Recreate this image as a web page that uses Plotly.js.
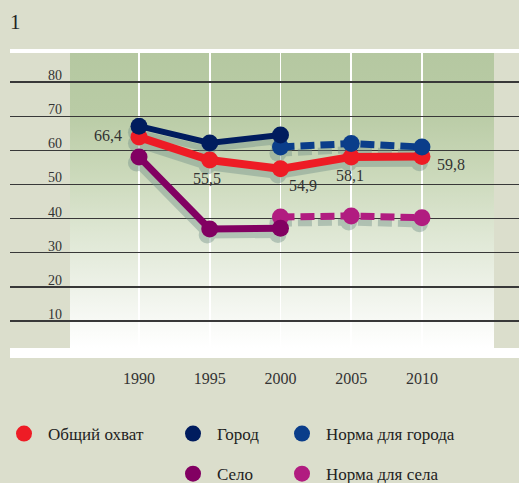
<!DOCTYPE html>
<html>
<head>
<meta charset="utf-8">
<script src="https://cdn.plot.ly/plotly-3.0.1.min.js"></script>
<style>
html,body{margin:0;padding:0;background:#dbdecc;}
#chart{width:519px;height:483px;}
</style>
</head>
<body>
<div id="chart"></div>
<script>
// ---- data ----
var years = [1990, 1995, 2000, 2005, 2010];
var yearsCity = [1990, 1995, 2000];
var yearsNorm = [2000, 2005, 2010];
var totalCoverage = [63.9, 57.2, 54.6, 58.1, 58.2];
var city = [67.1, 62.2, 64.5];
var village = [58.1, 37.0, 37.2];
var cityNorm = [61.0, 62.0, 61.0];
var villageNorm = [40.5, 40.8, 40.3];
var totalLabels = ['66,4', '55,5', '54,9', '58,1', '59,8'];
var yTicks = [10, 20, 30, 40, 50, 60, 70, 80];
var xTicks = [1990, 1995, 2000, 2005, 2010];
var names = ['Общий охват', 'Город', 'Норма для города', 'Село', 'Норма для села'];

// ---- styles ----
var C = {red:'#ee1c25', navy:'#001c5e', blue:'#0a3d8a', purple:'#820062', magenta:'#b11c80'};
var serif = 'Liberation Serif, Times New Roman, serif';
var labelOffsets = [[-15, 2, 'right'], [-3, -19, 'center'], [23, -17, 'center'], [-1, -19, 'center'], [29, -8, 'center']];

var xr = [1980.88, 2016.86];
var yr = [-0.8, 89.7];
var sdx = 0.18, sdy = 1.8;

// background canvas for plot area (decorative)
function makeBg() {
  var cv = document.createElement('canvas');
  cv.width = 509; cv.height = 309;
  var g = cv.getContext('2d');
  g.fillStyle = '#ffffff'; g.fillRect(0, 0, 509, 309);
  g.fillStyle = '#dbdecc';
  g.fillRect(0, 4, 60, 295);
  g.fillRect(484, 4, 25, 295);
  var gr = g.createLinearGradient(0, 4, 0, 299);
  gr.addColorStop(0, '#b5c8a1');
  gr.addColorStop(0.2, '#b9cba5');
  gr.addColorStop(0.4, '#cad8b9');
  gr.addColorStop(0.6, '#dde6d2');
  gr.addColorStop(0.8, '#eef2e9');
  gr.addColorStop(0.95, '#fbfcfa');
  gr.addColorStop(1, '#ffffff');
  g.fillStyle = gr;
  g.fillRect(60, 4, 424, 295);
  return cv.toDataURL('image/png');
}

function shadow(x, y, w, dash) {
  return {x:x, y:y, xaxis:'x2', yaxis:'y2', mode:'lines+markers', showlegend:false, hoverinfo:'skip',
    opacity:0.4, line:{color:'#6f8d86', width:w, dash:dash || 'solid'}, marker:{size:17, color:'#6f8d86'}};
}
function lineTr(x, y, col, w, dash) {
  return {x:x, y:y, xaxis:'x3', yaxis:'y3', mode:'lines', showlegend:false, hoverinfo:'skip',
    line:{color:col, width:w, dash:dash || 'solid'}};
}
function markTr(x, y, col, name, legend, rank) {
  return {x:x, y:y, xaxis:'x3', yaxis:'y3', mode:'markers', name:name, legend:legend, legendrank:rank,
    legendgroup:name, marker:{size:17, color:col}};
}

var dashPat = '14px,6px';
var traces = [
  shadow(years, totalCoverage, 8),
  shadow(yearsCity, city, 6),
  shadow(yearsCity, village, 7),
  shadow(yearsNorm, cityNorm, 7, dashPat),
  shadow(yearsNorm, villageNorm, 7, dashPat),
  lineTr(years, totalCoverage, C.red, 8),
  markTr(years, totalCoverage, C.red, names[0], 'legend', 1),
  lineTr(yearsNorm, villageNorm, C.magenta, 7, dashPat),
  markTr(yearsNorm, villageNorm, C.magenta, names[4], 'legend3', 2),
  lineTr(yearsNorm, cityNorm, C.blue, 7, dashPat),
  markTr(yearsNorm, cityNorm, C.blue, names[2], 'legend3', 1),
  lineTr(yearsCity, village, C.purple, 7),
  markTr(yearsCity, village, C.purple, names[3], 'legend2', 2),
  lineTr(yearsCity, city, C.navy, 6),
  markTr(yearsCity, city, C.navy, names[1], 'legend2', 1)
];

var annotations = totalLabels.map(function(t, i) {
  return {x:years[i], y:totalCoverage[i], xref:'x', yref:'y', text:t, showarrow:false,
    xanchor:labelOffsets[i][2], yanchor:'middle', xshift:labelOffsets[i][0], yshift:labelOffsets[i][1],
    font:{family:serif, size:16, color:'#333'}};
});

var legendFont = {family:serif, size:17, color:'#222'};
function leg(px) {
  return {xref:'container', yref:'container', x:px/519, y:1 - 416/483, xanchor:'left', yanchor:'top',
    orientation:'v', bgcolor:'rgba(0,0,0,0)', font:legendFont, tracegroupgap:15, traceorder:'grouped',
    itemwidth:38, itemclick:false};
}

var layout = {
  width:519, height:483,
  paper_bgcolor:'#dbdecc', plot_bgcolor:'#ffffff',
  margin:{l:10, r:0, t:49, b:125, autoexpand:false},
  title:{text:'1', x:10/519, xanchor:'left', xref:'container', yref:'container', y:1 - 22/483, yanchor:'middle',
    font:{family:serif, size:21, color:'#222'}},
  showlegend:true,
  legend:leg(0), legend2:leg(169), legend3:leg(278),
  xaxis:{range:xr, tickvals:xTicks, ticktext:xTicks.map(String), showgrid:true, gridcolor:'#ffffff', gridwidth:1.5,
    zeroline:false, showline:false, ticks:'', ticklabelstandoff:9, tickfont:{family:serif, size:16, color:'#333'}, fixedrange:true},
  yaxis:{range:yr, tickvals:yTicks, showgrid:true, gridcolor:'#383838', gridwidth:1.3, zeroline:false, showline:false,
    ticks:'', ticklabelposition:'inside', ticklabelstandoff:35, ticklabelshift:-7,
    tickfont:{family:serif, size:14, color:'#333'}, fixedrange:true},
  xaxis2:{overlaying:'x', range:[xr[0] + sdx, xr[1] + sdx], visible:false, fixedrange:true},
  yaxis2:{overlaying:'y', range:[yr[0] + sdy, yr[1] + sdy], visible:false, fixedrange:true},
  xaxis3:{overlaying:'x', range:xr, visible:false, fixedrange:true},
  yaxis3:{overlaying:'y', range:yr, visible:false, fixedrange:true},
  images:[{source:makeBg(), xref:'paper', yref:'paper', x:0, y:1, sizex:1, sizey:1, sizing:'stretch',
    xanchor:'left', yanchor:'top', layer:'below'}],
  annotations:annotations
};

Plotly.newPlot('chart', traces, layout, {displayModeBar:false, staticPlot:true});
</script>
</body>
</html>
